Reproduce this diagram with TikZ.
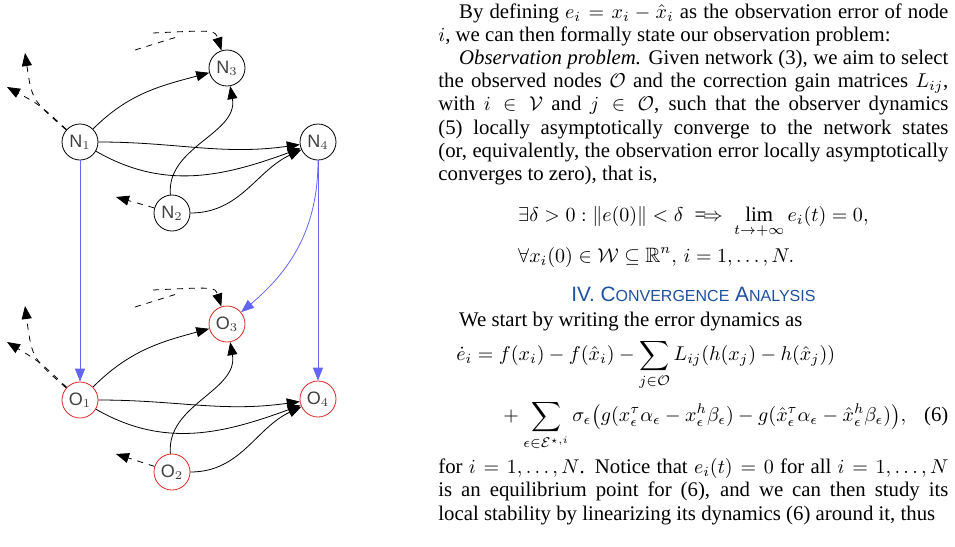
\documentclass[tikz,border=0pt]{standalone}
\usepackage{amsmath,amssymb}
\usepackage{fontspec}
\setmainfont{Liberation Serif}
\setsansfont{Liberation Sans}
\usetikzlibrary{arrows.meta}
\definecolor{obsred}{RGB}{220,40,40}
\definecolor{linkblue}{RGB}{100,100,245}
\definecolor{headblue}{RGB}{30,80,160}
\tikzset{
  netnode/.style={circle,draw,minimum size=18pt,inner sep=0pt,font=\sffamily\small,text=black!75},
  obsnode/.style={netnode,draw=obsred},
  arc/.style={-{Triangle[length=6.5pt,width=5pt]},thin},
  extarc/.style={arc,dashed},
  obsarc/.style={arc,linkblue}
}
\begin{document}
\begin{tikzpicture}[x=0.5pt,y=-0.5pt]
\useasboundingbox (0,0) rectangle (955,547);

% Network nodes
\node[netnode] (N1) at (80,142) {N$_1$};
\node[netnode] (N2) at (172,213) {N$_2$};
\node[netnode] (N3) at (227,68) {N$_3$};
\node[netnode] (N4) at (318,142) {N$_4$};

% Observer nodes
\node[obsnode] (O1) at (80,400) {O$_1$};
\node[obsnode] (O2) at (172,472) {O$_2$};
\node[obsnode] (O3) at (227,324) {O$_3$};
\node[obsnode] (O4) at (318,399) {O$_4$};

% Free ends of the outgoing / incoming links
\coordinate (n1up) at (25,53);
\coordinate (n1left) at (7,87);
\coordinate (n2left) at (116,197);
\coordinate (n3a) at (135,50);
\coordinate (n3b) at (153,33);
\coordinate (o1up) at (25,306);
\coordinate (o1left) at (7,342);
\coordinate (o2left) at (116,454);
\coordinate (o3a) at (135,307);
\coordinate (o3b) at (153,290);

% Links of the network
\draw[arc] (N1) to[out=45,in=195] (N3);
\draw[arc] (N1) to[out=0,in=188] (N4);
\draw[arc] (N1) to[out=-30,in=200] (N4);
\draw[arc] (N2) to[out=95,in=-80] (N3);
\draw[arc] (N2.east) to[out=0,in=205] (N4);
\draw[extarc] (N1) .. controls (32,100) .. (n1up);
\draw[extarc] (N1) .. controls (40,105) .. (n1left);
\draw[extarc] (N2) -- (n2left);
\draw[dashed] (n3a) -- (180,36);
\draw[extarc] (n3b) .. controls (215,30) .. (N3);

% Links of the observer
\draw[arc] (O1) to[out=45,in=195] (O3);
\draw[arc] (O1) to[out=0,in=188] (O4);
\draw[arc] (O1) to[out=-30,in=200] (O4);
\draw[arc] (O2) to[out=95,in=-80] (O3);
\draw[arc] (O2.east) to[out=0,in=205] (O4);
\draw[extarc] (O1) .. controls (32,358) .. (o1up);
\draw[extarc] (O1) .. controls (40,362) .. (o1left);
\draw[extarc] (O2) -- (o2left);
\draw[dashed] (o3a) -- (180,293);
\draw[extarc] (o3b) .. controls (215,287) .. (O3);

% Measured outputs
\draw[obsarc] (N1) -- (O1);
\draw[obsarc] (N4) -- (O4);
\draw[obsarc] (N4) to[out=-90,in=40] (O3);

% Text column
\node[anchor=north west,inner sep=0pt] (body) at (438,3) {\begin{minipage}{255pt}
\fontsize{10.4pt}{11.6pt}\selectfont\setlength{\parindent}{1em}\hyphenpenalty=10000\tolerance=9999%
\abovedisplayskip=9pt\belowdisplayskip=6pt\abovedisplayshortskip=9pt\belowdisplayshortskip=6pt
\indent By defining $e_i=x_i-\hat{x}_i$ as the observation error of node\linebreak $i$, we can then formally state our observation problem:

\textit{Observation problem.} Given network (3), we aim to select\linebreak the observed nodes $\mathcal{O}$ and the correction gain matrices $L_{ij}$,\linebreak with $i\in\mathcal{V}$ and $j\in\mathcal{O}$, such that the observer dynamics\linebreak (5) locally asymptotically converge to the network states\linebreak (or, equivalently, the observation error locally asymptotically\linebreak converges to zero), that is,
\begin{align*}
&\exists\delta>0:\|e(0)\|<\delta\implies\lim_{t\to+\infty}e_i(t)=0,\\
&\forall x_i(0)\in\mathcal{W}\subseteq\mathbb{R}^n,\,i=1,\dots,N.
\end{align*}\par
\vspace{2pt}
{\centering\sffamily\color{headblue}IV. C{\footnotesize ONVERGENCE} A{\footnotesize NALYSIS}\par}
\vspace{1pt}
\abovedisplayskip=3pt\belowdisplayskip=3pt\abovedisplayshortskip=3pt\belowdisplayshortskip=3pt
\indent We start by writing the error dynamics as
\begin{align*}
\dot{e}_i={}&f(x_i)-f(\hat{x}_i)-\sum_{j\in\mathcal{O}}L_{ij}(h(x_j)-h(\hat{x}_j))\\[1pt]
&+\sum_{\epsilon\in\mathcal{E}^{\star,i}}\sigma_\epsilon\bigl(g(x_\epsilon^\tau\alpha_\epsilon-x_\epsilon^h\beta_\epsilon)-g(\hat{x}_\epsilon^\tau\alpha_\epsilon-\hat{x}_\epsilon^h\beta_\epsilon)\bigr),\tag*{(6)}
\end{align*}
for $i=1,\dots,N$. Notice that $e_i(t)=0$ for all $i=1,\dots,N$\linebreak is an equilibrium point for (6), and we can then study its\linebreak local stability by linearizing its dynamics (6) around it, thus
\end{minipage}};

\end{tikzpicture}
\end{document}
